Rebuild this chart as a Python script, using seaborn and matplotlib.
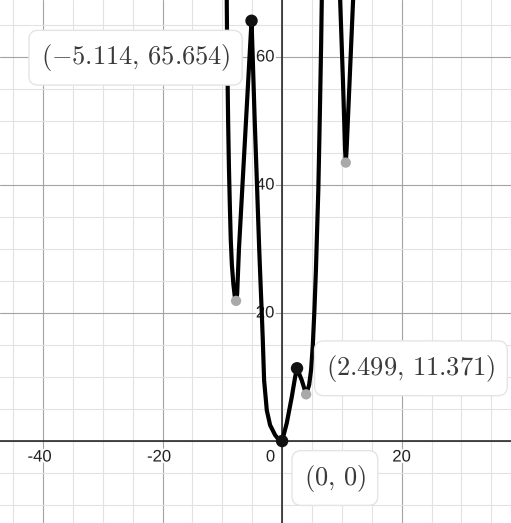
import numpy as np
import matplotlib
matplotlib.use("Agg")
import matplotlib.pyplot as plt
import matplotlib.patheffects as pe
import seaborn as sns

# curve (x, y); first/last/middle points run off the top
curve_x = [-9.35, -9.26, -9.20, -9.12, -9.03, -8.90, -8.75, -8.59, -8.40, -8.15,
           -7.92, -7.70,
           -7.52, -7.22, -6.63, -6.04, -5.45, -5.114,
           -4.95, -4.58, -4.20, -3.83, -3.56, -3.40, -3.23, -3.01, -2.56, -2.01,
           -1.17, -0.50, 0.0,
           0.78, 1.62, 2.18, 2.499, 3.29, 4.02,
           4.52, 4.85, 5.14, 5.41, 5.66, 5.86, 6.06, 6.23, 6.39, 6.53, 6.64, 6.80,
           8.2, 9.55, 9.71, 10.18, 10.54, 10.66, 10.79, 11.30, 11.88, 12.0]
curve_y = [80.0, 68.9, 62.0, 56.4, 50.0, 43.0, 37.0, 31.5, 27.5, 24.5,
           22.6, 21.9,
           23.0, 30.0, 40.0, 50.0, 60.0, 65.654,
           61.0, 50.0, 40.0, 30.0, 23.6, 20.0, 15.8, 9.5, 4.8, 2.5,
           0.94, 0.15, 0.0,
           2.8, 6.9, 10.0, 11.371, 9.5, 7.3,
           8.75, 11.1, 15.0, 20.5, 26.7, 33.0, 39.2, 47.0, 54.8, 61.9, 68.9, 75.0,
           120.0, 75.0, 68.9, 56.4, 45.5, 43.5, 45.5, 56.4, 68.9, 75.0]

# labelled points
pt_x = [-5.114, 0.0, 2.499]
pt_y = [65.654, 0.0, 11.371]
# grey (unlabelled) minima
min_x = [-7.70, 4.02, 10.66]
min_y = [21.9, 7.3, 43.5]

x_tick_vals = [-40, -20, 0, 20]
y_tick_vals = [20, 40, 60]

sns.set_theme(style="white")
plt.rcParams["mathtext.fontset"] = "cm"

fig = plt.figure(figsize=(5.11, 5.23), dpi=100)
ax = fig.add_axes([0, 0, 1, 1])
ax.set_xlim(-47.2, 38.3)
ax.set_ylim(-12.8, 68.9)

# grid: minor every 5, major every 20
for v in np.arange(-45, 40, 5):
    ax.axvline(v, color="#a3a3a3" if v % 20 == 0 else "#e2e2e2", lw=0.8, zorder=0)
for v in np.arange(-10, 70, 5):
    ax.axhline(v, color="#a3a3a3" if v % 20 == 0 else "#e2e2e2", lw=0.8, zorder=0)
ax.axvline(0, color="#2b2b2b", lw=1.2, zorder=1)
ax.axhline(0, color="#2b2b2b", lw=1.2, zorder=1)
ax.set_xticks([])
ax.set_yticks([])
for s in ax.spines.values():
    s.set_visible(False)

halo = [pe.withStroke(linewidth=3, foreground="white")]
for v in x_tick_vals:
    if v == 0:
        ax.annotate("0", (0, 0), xytext=(-5, -11.5), textcoords="offset points",
                    ha="right", va="center", fontsize=12, family="Liberation Sans",
                    color="#222222", path_effects=halo, zorder=2)
    else:
        dx = -2.5 if v < 0 else 0
        ax.annotate(str(v), (v, 0), xytext=(dx, -11.5), textcoords="offset points",
                    ha="center", va="center", fontsize=12, family="Liberation Sans",
                    color="#222222", path_effects=halo, zorder=2)
for v in y_tick_vals:
    ax.annotate(str(v), (0, v), xytext=(-5.5, 0), textcoords="offset points",
                ha="right", va="center", fontsize=12, family="Liberation Sans",
                color="#222222", path_effects=halo, zorder=2)

sns.lineplot(x=curve_x, y=curve_y, sort=False, estimator=None, color="black",
             lw=3, ax=ax, zorder=3)
sns.scatterplot(x=min_x, y=min_y, color="#a9a9a9", s=55, edgecolor="none",
                ax=ax, zorder=4)
sns.scatterplot(x=pt_x, y=pt_y, color="#111111", s=80, edgecolor="none",
                ax=ax, zorder=5)


def fmt(v):
    if v == 0:
        return "0"
    return ("%.3f" % v).rstrip("0").rstrip(".")


offsets = [(-83.5, -26.6), (38, -26.6), (82, 0)]
for x, y, off in zip(pt_x, pt_y, offsets):
    lab = r"$(%s,\,%s)$" % (fmt(x), fmt(y))
    ax.annotate(lab, (x, y), xytext=off, textcoords="offset points",
                ha="center", va="center", fontsize=19, color="#3a3a3a", zorder=6,
                bbox=dict(boxstyle="round,pad=0.45,rounding_size=0.35",
                          fc="white", ec="#e4e4e4", lw=1))

fig.savefig("out.png", dpi=100)
